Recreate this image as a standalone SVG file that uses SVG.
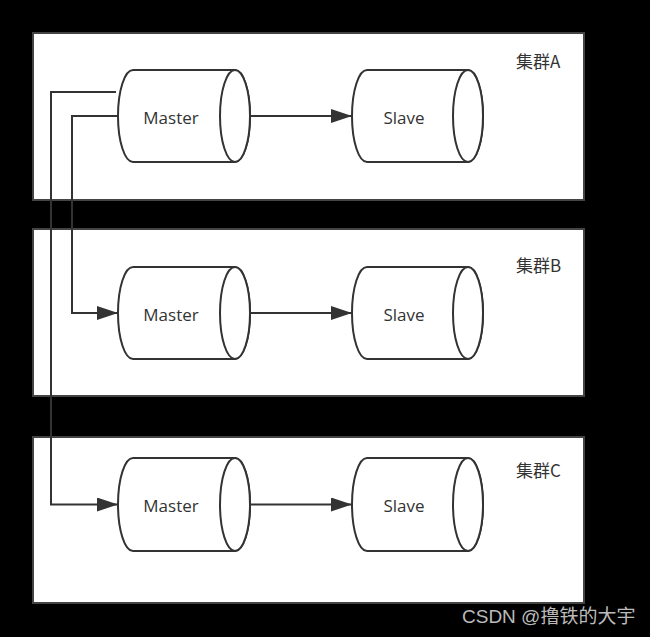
<svg xmlns="http://www.w3.org/2000/svg" width="650" height="637" viewBox="0 0 650 637">
<style>
.box{fill:#ffffff;stroke:#444444;stroke-width:2}
.cyl{fill:#ffffff;stroke:#333333;stroke-width:2}
.lbl{font-family:"Open Sans","Noto Sans",sans-serif;font-size:17px;fill:#333333;text-anchor:middle}
.grp{font-family:"Noto Sans CJK SC","Open Sans",sans-serif;font-size:17px;fill:#333333}
.wire{fill:none;stroke:#333333;stroke-width:2}
.wm{font-family:"Liberation Sans","Noto Sans CJK SC",sans-serif;font-size:19px;fill:#bbbbbb}
</style>
<defs>
<marker id="arr" markerUnits="userSpaceOnUse" markerWidth="22" markerHeight="14" refX="21" refY="7" orient="auto">
<path d="M0,0 L21,7 L0,14 z" fill="#333333"/>
</marker>
</defs>
<rect width="650" height="637" fill="#000000"/>
<g id="clusterA">
<rect class="box" x="33" y="33" width="551" height="167"/>
<text class="grp" x="516" y="68">集群A</text>
</g>
<g id="clusterB">
<rect class="box" x="33" y="229" width="551" height="167"/>
<text class="grp" x="516" y="272">集群B</text>
</g>
<g id="clusterC">
<rect class="box" x="33" y="437" width="551" height="166"/>
<text class="grp" x="516" y="477">集群C</text>
</g>
<g id="masterA">
<path class="cyl" d="M133,70 L235,70 A15,46 0 0 1 235,162 L133,162 A15,46 0 0 1 133,70 Z"/>
<ellipse class="cyl" cx="235" cy="116" rx="15" ry="46"/>
<text class="lbl" x="171" y="124">Master</text>
</g>
<g id="slaveA">
<path class="cyl" d="M367,70 L468,70 A15,46 0 0 1 468,162 L367,162 A15,46 0 0 1 367,70 Z"/>
<ellipse class="cyl" cx="468" cy="116" rx="15" ry="46"/>
<text class="lbl" x="404" y="124">Slave</text>
</g>
<g id="masterB">
<path class="cyl" d="M133,267 L235,267 A15,46 0 0 1 235,359 L133,359 A15,46 0 0 1 133,267 Z"/>
<ellipse class="cyl" cx="235" cy="313" rx="15" ry="46"/>
<text class="lbl" x="171" y="321">Master</text>
</g>
<g id="slaveB">
<path class="cyl" d="M367,267 L468,267 A15,46 0 0 1 468,359 L367,359 A15,46 0 0 1 367,267 Z"/>
<ellipse class="cyl" cx="468" cy="313" rx="15" ry="46"/>
<text class="lbl" x="404" y="321">Slave</text>
</g>
<g id="masterC">
<path class="cyl" d="M133,458 L235,458 A15,46.5 0 0 1 235,551 L133,551 A15,46.5 0 0 1 133,458 Z"/>
<ellipse class="cyl" cx="235" cy="504.5" rx="15" ry="46.5"/>
<text class="lbl" x="171" y="512">Master</text>
</g>
<g id="slaveC">
<path class="cyl" d="M367,458 L468,458 A15,46.5 0 0 1 468,551 L367,551 A15,46.5 0 0 1 367,458 Z"/>
<ellipse class="cyl" cx="468" cy="504.5" rx="15" ry="46.5"/>
<text class="lbl" x="404" y="512">Slave</text>
</g>
<g id="connectors">
<path class="wire" d="M250,116 L352,116" marker-end="url(#arr)"/>
<path class="wire" d="M250,313 L352,313" marker-end="url(#arr)"/>
<path class="wire" d="M250,504.5 L352,504.5" marker-end="url(#arr)"/>
<path class="wire" d="M116,92 L51,92 L51,504.5 L118,504.5" marker-end="url(#arr)"/>
<path class="wire" d="M118,116 L72,116 L72,313 L118,313" marker-end="url(#arr)"/>
</g>
<text class="wm" x="462" y="623">CSDN @撸铁的大宇</text>
</svg>
